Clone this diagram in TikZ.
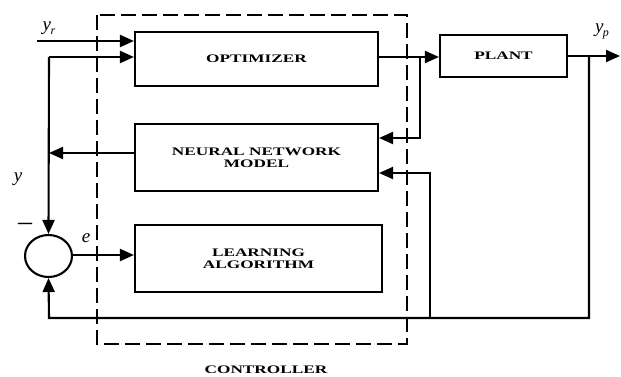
\documentclass[tikz,border=0pt]{standalone}
\usepackage{fontspec}
\setmainfont{Liberation Serif}
\newfontfamily\boxfont[FakeStretch=1.5]{Liberation Serif}
\usetikzlibrary{arrows.meta,shapes.geometric}
\newcommand{\vsub}[2]{{\itshape #1}\kern-0.5pt\raisebox{-4pt}{\fontsize{12}{12}\selectfont\itshape #2}}
\begin{document}
\begin{tikzpicture}[x=1pt,y=-1pt,
  line width=2.1pt,
  arr/.style={-{Triangle[length=14pt,width=12pt]}},
  blk/.style={draw,rectangle,inner sep=0pt,align=center,font=\boxfont\bfseries\fontsize{11.5}{12.5}\selectfont},
  lbl/.style={inner sep=0pt,font=\fontsize{19}{19}\selectfont}]
\useasboundingbox (0,0) rectangle (621,376);
% dashed controller frame
\draw[dash pattern=on 15pt off 6pt] (97,15) rectangle (407,344);
\node[inner sep=0pt,font=\boxfont\bfseries\fontsize{11.5}{12}\selectfont] (ctl) at (266,370) {CONTROLLER};
% blocks
\node[blk,minimum width=243pt,minimum height=54pt] (opt) at (256.5,59) {OPTIMIZER};
\node[blk,minimum width=243pt,minimum height=67pt] (nn) at (256.5,157.5) {NEURAL NETWORK\\MODEL};
\node[blk,minimum width=247pt,minimum height=67pt] (learn) at (258.5,258.5) {LEARNING\\ALGORITHM};
\node[blk,minimum width=127pt,minimum height=42pt] (plant) at (503.5,56) {PLANT};
\node[draw,ellipse,minimum width=47pt,minimum height=42pt,inner sep=0pt] (sum) at (48.5,256) {};
% coordinates
\coordinate (yrin) at (37,41);
\coordinate (tl) at (49,57);
\coordinate (b1) at (420,57);
\coordinate (b2) at (589,56);
\coordinate (yp) at (620,56);
\coordinate (bl) at (49,318);
\coordinate (b3) at (430,318);
\coordinate (nnout) at ([yshift=4.5pt]nn.west);
\coordinate (nnin1) at ([yshift=19.5pt]nn.east);
\coordinate (nnin2) at ([yshift=-15.5pt]nn.east);
\coordinate (eline) at (0,255);
% connectors
\draw[arr] (yrin) -- (opt.west |- yrin);
\draw[arr] (tl) -- (opt.west |- tl);
\draw[arr] (tl) -- (sum.north);
\draw[arr] (nnout) -- (tl |- nnout);
\draw (opt.east |- b1) -- (b1);
\draw[arr] (b1) -- (plant.west |- b1);
\draw[arr] (b1) |- (nnin1);
\draw[arr] (plant.east) -- (yp);
\draw[arr] (b2) |- (bl) -- (sum.south);
\draw[arr] (b3) |- (nnin2);
\draw[arr] (sum.east |- eline) -- (learn.west |- eline);
% labels
\node[lbl] (lyr) at (49,28) {\vsub{y}{r}};
\node[lbl] (lyp) at (602,31) {\vsub{y}{p}};
\node[lbl] (ly) at (18,179) {\itshape y};
\node[lbl,font=\fontsize{28}{28}\selectfont] (lm) at (25,227) {–};
\node[lbl] (le) at (86,238) {\itshape e};
\end{tikzpicture}
\end{document}
